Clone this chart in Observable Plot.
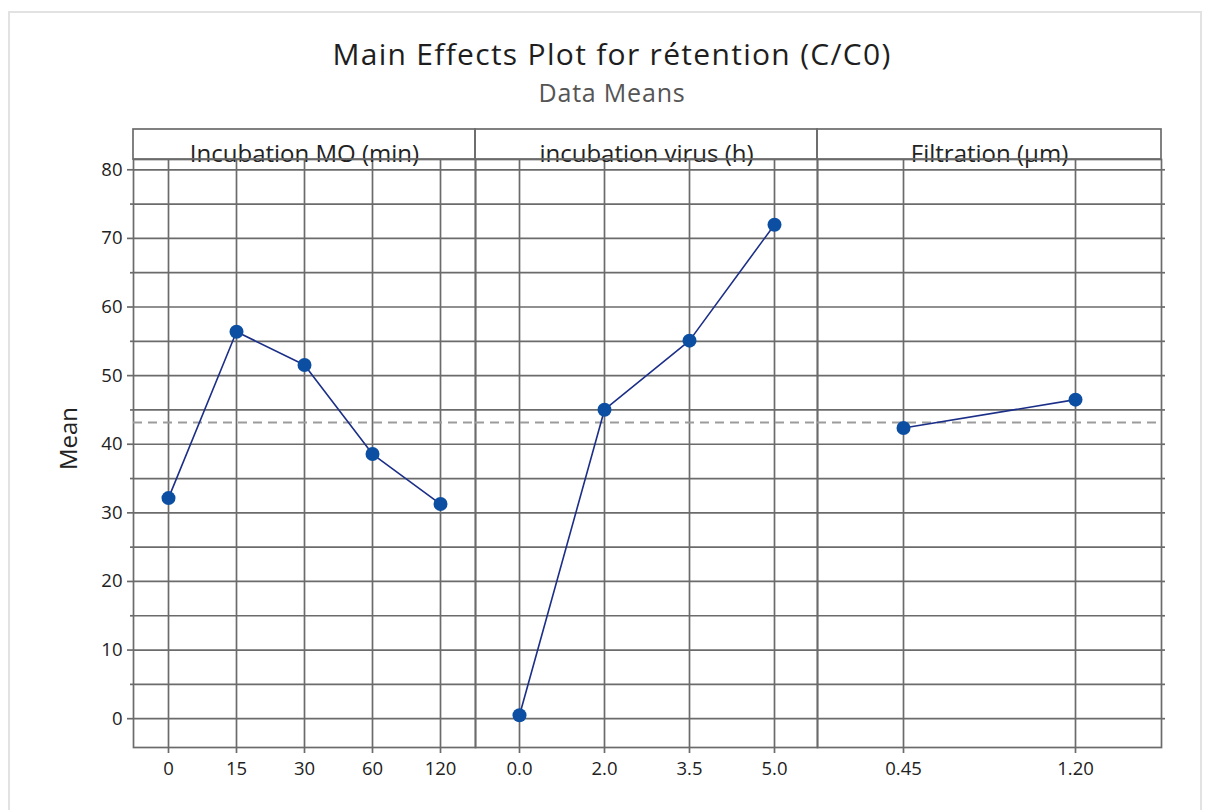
<!DOCTYPE html>
<html>
<head>
<meta charset="utf-8">
<script src="https://cdn.jsdelivr.net/npm/d3@7"></script>
<script src="https://cdn.jsdelivr.net/npm/@observablehq/plot@0.6"></script>
<style>
  html, body { margin: 0; padding: 0; background: #fff; }
  #page { position: relative; width: 1212px; height: 810px; overflow: hidden; font-family: "Open Sans", "Noto Sans", sans-serif; }
  #border { position: absolute; left: 8px; top: 11px; width: 1190px; height: 820px; border: 2px solid #e2e2e2; border-bottom: none; }
  #title { position: absolute; left: 12px; width: 1200px; top: 36px; text-align: center; font-size: 30px; font-weight: 500; letter-spacing: 1.3px; line-height: 36px; color: #1e1e1e; }
  #subtitle { position: absolute; left: 12px; width: 1200px; top: 77px; text-align: center; font-size: 25px; letter-spacing: 0.8px; line-height: 30px; color: #555; }
  #row { position: absolute; left: 0; top: 100px; display: flex; flex-direction: row; align-items: flex-start; }
  #row svg { overflow: visible; display: block; }
</style>
</head>
<body>
<div id="page">
  <div id="border"></div>
  <div id="title">Main Effects Plot for rétention (C/C0)</div>
  <div id="subtitle">Data Means</div>
  <div id="row"></div>
</div>
<script>
// ---- data ----
const factors = ["Incubation MO (min)", "incubation virus (h)", "Filtration (µm)"];
const levelsMO = ["0", "15", "30", "60", "120"];
const meansMO = [32.15, 56.4, 51.55, 38.57, 31.28];
const levelsVirus = ["0.0", "2.0", "3.5", "5.0"];
const meansVirus = [0.5, 45.03, 55.1, 72.0];
const levelsFiltration = ["0.45", "1.20"];
const meansFiltration = [42.36, 46.5];
const grandMean = 43.15;
const yMajorTicks = [0, 10, 20, 30, 40, 50, 60, 70, 80];
const yMinorTicks = [5, 15, 25, 35, 45, 55, 65, 75];
const yLabel = "Mean";

// ---- styles ----
const gridColor = "#6b6b6b";
const gridWidth = 1.7;
const lineColor = "#1c2f88";
const dotColor = "#0b4ea2";
const H = 710, MT = 59, MB = 63;
const stripTop = 29;
const tickFont = 18.5;

function panel(name, levels, means, opts) {
  const data = levels.map((l, i) => ({level: l, mean: means[i]}));
  const allY = [...yMajorTicks, ...yMinorTicks];
  const marks = [
    Plot.gridY(allY, {stroke: gridColor, strokeOpacity: 1, strokeWidth: gridWidth}),
    Plot.gridX({stroke: gridColor, strokeOpacity: 1, strokeWidth: gridWidth}),
    Plot.axisX({tickSize: 6, tickPadding: 8, label: null, stroke: gridColor, strokeWidth: gridWidth, fill: "#222", fontSize: tickFont}),
    Plot.frame({stroke: gridColor, strokeWidth: gridWidth}),
    Plot.ruleY([grandMean], {stroke: "#9c9c9c", strokeWidth: 2, strokeDasharray: "9,6"}),
    Plot.line(data, {x: "level", y: "mean", stroke: lineColor, strokeWidth: 1.6}),
    Plot.dot(data, {x: "level", y: "mean", r: 7, fill: dotColor, stroke: null, symbol: "circle"}),
    Plot.text([name], {frameAnchor: "top", dy: -15, fontSize: 24, fill: "#222", text: d => d})
  ];
  if (opts.first) {
    marks.push(Plot.axisY(yMajorTicks, {tickSize: 6, tickPadding: 5, stroke: gridColor, strokeWidth: gridWidth, fill: "#222", fontSize: tickFont,
      label: yLabel, labelAnchor: "center", labelArrow: "none", labelOffset: 74}));
    marks.push(Plot.axisY(yMinorTicks, {tickSize: 3, text: null, label: null, stroke: gridColor, strokeWidth: gridWidth}));
  }
  if (opts.last) {
    marks.push(Plot.axisY([...yMajorTicks, ...yMinorTicks], {anchor: "right", tickSize: 3, text: null, label: null, stroke: gridColor, strokeWidth: gridWidth}));
  }
  const svg = Plot.plot({
    width: opts.width,
    height: H,
    marginLeft: opts.marginLeft,
    marginRight: opts.marginRight,
    marginTop: MT,
    marginBottom: MB,
    style: {fontFamily: "'Open Sans', 'Noto Sans', sans-serif", fontSize: "18px", color: "#222", background: "none", overflow: "visible"},
    x: {type: "point", domain: levels, padding: 0.5, label: null, axis: null},
    y: {domain: [-4.2, 81.5], label: null, axis: null},
    marks
  });
  const s = d3.select(svg);
  s.selectAll("g[aria-label='x-axis tick label'], g[aria-label='y-axis tick label']").attr("font-size", tickFont);
  s.selectAll("g[aria-label='x-axis tick label'] text, g[aria-label='y-axis tick label'] text").attr("font-size", tickFont);
  // y-axis title ("Mean")
  s.selectAll("g[aria-label='y-axis label']").attr("font-size", 24);
  s.selectAll("g[aria-label='y-axis label'] text").attr("font-size", 24).attr("dx", 15);
  // header strip box around the facet label
  const x0 = opts.marginLeft, x1 = opts.width - opts.marginRight;
  s.append("rect")
    .attr("x", x0).attr("y", stripTop).attr("width", x1 - x0).attr("height", MT - stripTop)
    .attr("fill", "none").attr("stroke", gridColor).attr("stroke-width", gridWidth);
  return svg;
}

const row = document.getElementById("row");
row.appendChild(panel(factors[0], levelsMO, meansMO, {width: 475, marginLeft: 133, marginRight: 0, first: true}));
row.appendChild(panel(factors[1], levelsVirus, meansVirus, {width: 342, marginLeft: 0, marginRight: 0}));
row.appendChild(panel(factors[2], levelsFiltration, meansFiltration, {width: 395, marginLeft: 0, marginRight: 51, last: true}));
</script>
</body>
</html>
